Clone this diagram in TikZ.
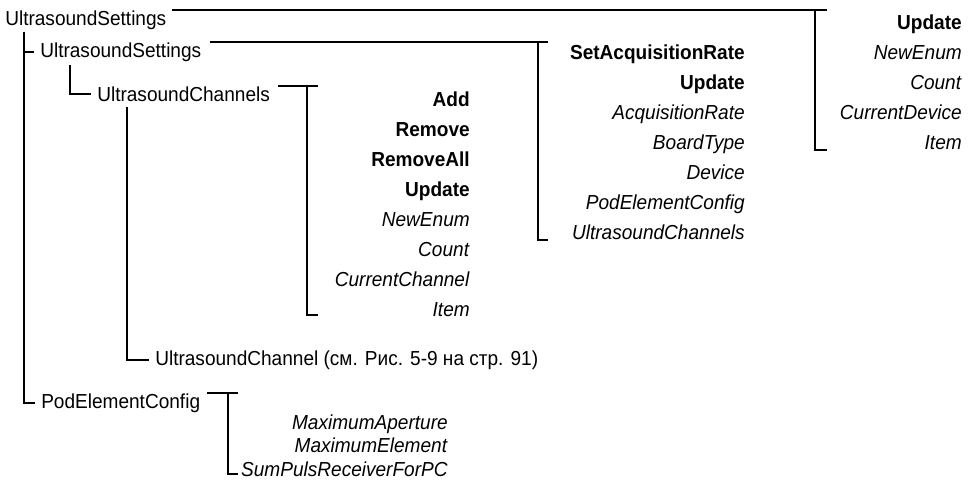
\documentclass[tikz,border=0pt]{standalone}
\usepackage{fontspec}
\setmainfont{Liberation Sans}[FakeStretch=0.94]
\usetikzlibrary{positioning,calc}

\begin{document}
\begin{tikzpicture}[
  x=0.75pt, y=-0.75pt,
  font=\fontsize{15.2}{22.5}\selectfont,
  cls/.style={inner sep=0pt, anchor=west},
  members/.style={inner sep=0pt, anchor=north east, align=right},
  brk/.style={line width=1.5pt},
]
\useasboundingbox (0,0) rectangle (973,479);
\node[cls] (us0) at (5,20) {UltrasoundSettings};
\node[cls] (us1) at (40,52) {UltrasoundSettings};
\node[cls] (uchs) at (97,94) {UltrasoundChannels};
\node[cls] (uch) at (155,360) {UltrasoundChannel (см. Рис. 5-9 на стр. 91)};
\node[cls] (pod) at (41,403) {PodElementConfig};

\node[members] (m0) at (962,14.5) {\textbf{Update}\\\textit{NewEnum}\\\textit{Count}\\\textit{CurrentDevice}\\\textit{Item}};
\node[members] (m1) at (745,44.5) {\textbf{SetAcquisitionRate}\\\textbf{Update}\\\textit{AcquisitionRate}\\\textit{BoardType}\\\textit{Device}\\\textit{PodElementConfig}\\\textit{UltrasoundChannels}};
\node[members] (m2) at (470,91.5) {\textbf{Add}\\\textbf{Remove}\\\textbf{RemoveAll}\\\textbf{Update}\\\textit{NewEnum}\\\textit{Count}\\\textit{CurrentChannel}\\\textit{Item}};
\node[members, font=\fontsize{15.2}{17.6}\selectfont] (m3) at (448,414.5) {\textit{MaximumAperture}\\\textit{MaximumElement}\\\textit{SumPulsReceiverForPC}};

\coordinate (b0) at (815,150);
\coordinate (b1) at (538,240);
\coordinate (b2) at (307,315);
\coordinate (b3) at (228,474);
\draw[brk] ([xshift=4.5pt]us0.north east) -- ([xshift=9pt]b0 |- us0.north);
\draw[brk] (b0 |- us0.north) -- (b0) -- ++(12,0);
\draw[brk] ([xshift=6pt]us1.north east) -- ([xshift=7.5pt]b1 |- us1.north);
\draw[brk] (b1 |- us1.north) -- (b1) -- ++(10,0);
\draw[brk] ([xshift=6pt]uchs.north east) -- ([xshift=8pt]b2 |- uchs.north);
\draw[brk] (b2 |- uchs.north) -- (b2) -- ++(11,0);
\draw[brk] ([xshift=5pt]pod.north east) -- ([xshift=7.5pt]b3 |- pod.north);
\draw[brk] (b3 |- pod.north) -- (b3) -- ++(10,0);

\coordinate (t1) at (24,32);
\draw[brk] (t1) |- ([xshift=-4.5pt]us1.west);
\draw[brk] (t1) |- ([xshift=-4.5pt]pod.west);
\coordinate (t2) at (70,65);
\draw[brk] (t2) |- ([xshift=-4.5pt]uchs.west);
\coordinate (t3) at (127,107);
\draw[brk] (t3) |- ([xshift=-4.5pt]uch.west);
\end{tikzpicture}
\end{document}
